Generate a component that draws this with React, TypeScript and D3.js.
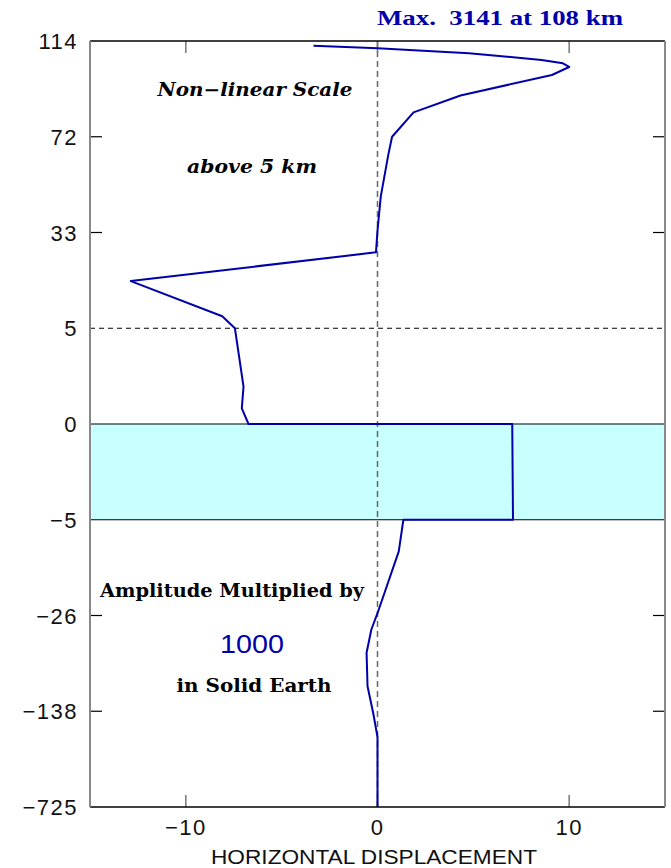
import React from "react";
import * as d3 from "d3";

const yTicks = [114, 72, 33, 5, 0, -5, -26, -138, -725];
const yTickLabels = ["114", "72", "33", "5", "0", "\u22125", "\u221226", "\u2212138", "\u2212725"];
const xTicks = [-10, 0, 10];
const xTickLabels = ["\u221210", "0", "10"];
const altitude = [111.9, 110.8, 108.6, 105.7, 104.2, 102.6, 99.1, 90.1, 82.7, 72.0, 64.5, 47.6, 33.8, 27.2, 18.8, 8.5, 5, 1.95, 0.82, 0, 0, -5, -5, -11.95, -25.5, -42.4, -69.6, -108.7, -152, -295.6, -725];
const displacement = [-3.34, 0, 4.77, 8.56, 9.67, 10.0, 9.1, 4.33, 1.88, 0.76, 0.56, 0.17, 0, -0.08, -12.87, -8.1, -7.44, -6.99, -7.08, -6.73, 7.03, 7.07, 1.35, 1.11, 0, -0.32, -0.57, -0.52, -0.22, 0, 0];
const layerTop = 0;
const layerBottom = -5;
const dashedLevel = 5;

export default function App() {
  const L = 90, R = 665, T = 41, B = 807;
  const x = d3.scaleLinear().domain([-15, 15]).range([L, R]);
  const y = d3
    .scaleLinear()
    .domain(yTicks)
    .range(yTicks.map((_, i) => T + (i * (B - T)) / (yTicks.length - 1)));
  const pts = altitude.map((a, i) => [displacement[i], a] as [number, number]);
  const line = d3
    .line<[number, number]>()
    .x((d) => x(d[0]))
    .y((d) => y(d[1]));
  const sans = "'Liberation Sans', Arial, sans-serif";
  const serif = "'DejaVu Serif', serif";
  const blue = "#0000AA";
  const tickLen = 12;
  const innerTicks = [72, 33, -26, -138];
  return (
    <svg width={671} height={868} style={{ position: "absolute", left: 0, top: 0 }}>
      <rect x={0} y={0} width={671} height={868} fill="#fff" />
      <rect x={L} y={y(layerTop)} width={R - L} height={y(layerBottom) - y(layerTop)} fill="#C8FFFF" />
      <line x1={L} x2={R} y1={y(layerTop)} y2={y(layerTop)} stroke="#000" strokeWidth={1.2} />
      <line x1={L} x2={R} y1={y(layerBottom)} y2={y(layerBottom)} stroke="#000" strokeWidth={1.2} />
      <line x1={L} x2={R} y1={y(dashedLevel)} y2={y(dashedLevel)} stroke="#000" strokeWidth={1} strokeDasharray="5,4" />
      <line x1={x(0)} x2={x(0)} y1={T} y2={B} stroke="#666" strokeWidth={1.5} strokeDasharray="6,4" />
      {xTicks.map((t) => (
        <g key={"xt" + t}>
          <line x1={x(t)} x2={x(t)} y1={T} y2={T + tickLen} stroke="#777" strokeWidth={1.5} />
          <line x1={x(t)} x2={x(t)} y1={B} y2={B - tickLen} stroke="#777" strokeWidth={1.5} />
        </g>
      ))}
      {innerTicks.map((t) => (
        <g key={"yt" + t}>
          <line x1={L} x2={L + tickLen} y1={y(t)} y2={y(t)} stroke="#000" strokeWidth={1.2} />
          <line x1={R} x2={R - tickLen} y1={y(t)} y2={y(t)} stroke="#000" strokeWidth={1.2} />
        </g>
      ))}
      <path d={line(pts) || ""} fill="none" stroke={blue} strokeWidth={2} strokeLinejoin="round" />
      <line x1={L} x2={R} y1={T} y2={T} stroke="#000" strokeWidth={1.5} />
      <line x1={L} x2={R} y1={B} y2={B} stroke="#000" strokeWidth={1.5} />
      <line x1={L} x2={L} y1={T} y2={B} stroke="#888" strokeWidth={2} />
      <line x1={R} x2={R} y1={T} y2={B} stroke="#888" strokeWidth={2} />
      {yTicks.map((t, i) => (
        <text key={"yl" + t} x={78} y={y(t) + 8} textAnchor="end" fontFamily={sans} fontSize={22} letterSpacing={1.5} fill="#111">
          {yTickLabels[i]}
        </text>
      ))}
      {xTicks.map((t, i) => (
        <text key={"xl" + t} x={x(t)} y={835} textAnchor="middle" fontFamily={sans} fontSize={22} letterSpacing={1.5} fill="#111">
          {xTickLabels[i]}
        </text>
      ))}
      <text x={374} y={864} textAnchor="middle" fontFamily={sans} fontSize={21} fill="#111" textLength={326} lengthAdjust="spacingAndGlyphs">
        HORIZONTAL DISPLACEMENT
      </text>
      <text x={377} y={25} fontFamily="'Liberation Serif', serif" fontWeight="bold" fontSize={20} fill={blue} textLength={246} lengthAdjust="spacingAndGlyphs" xmlSpace="preserve">
        {"Max.  3141 at 108 km"}
      </text>
      <text x={255} y={96} textAnchor="middle" fontFamily={serif} fontStyle="italic" fontWeight="bold" fontSize={18} fill="#000" textLength={195} lengthAdjust="spacingAndGlyphs">
        {"Non\u2212linear Scale"}
      </text>
      <text x={252} y={173} textAnchor="middle" fontFamily={serif} fontStyle="italic" fontWeight="bold" fontSize={18} fill="#000" textLength={130} lengthAdjust="spacingAndGlyphs">
        above 5 km
      </text>
      <text x={232} y={597} textAnchor="middle" fontFamily={serif} fontWeight="bold" fontSize={18} fill="#000" textLength={264} lengthAdjust="spacingAndGlyphs">
        Amplitude Multiplied by
      </text>
      <text x={252} y={653} textAnchor="middle" fontFamily={sans} fontSize={25} fill={blue} textLength={64} lengthAdjust="spacingAndGlyphs">
        1000
      </text>
      <text x={254} y={692} textAnchor="middle" fontFamily={serif} fontWeight="bold" fontSize={18} fill="#000" textLength={155} lengthAdjust="spacingAndGlyphs">
        in Solid Earth
      </text>
    </svg>
  );
}
